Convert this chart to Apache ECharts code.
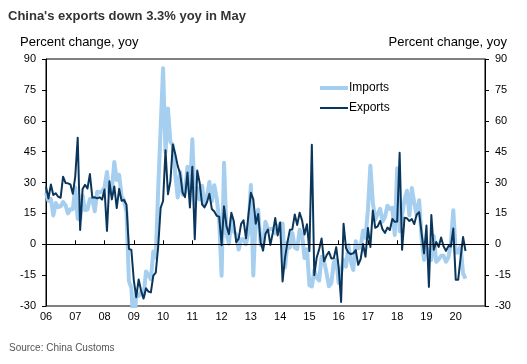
<!DOCTYPE html>
<html>
<head>
<meta charset="utf-8">
<script src="https://cdn.jsdelivr.net/npm/echarts@6/dist/echarts.min.js"></script>
<style>
html,body{margin:0;padding:0;background:#fff;}
#chart{width:527px;height:364px;}
</style>
</head>
<body>
<div id="chart"></div>
<script>
// Monthly data, Jan 2006 .. May 2020
const startYear = 2006;
const exportsYoY = [
  28.0, 22.2, 29.0, 23.9, 24.8, 23.1, 22.6, 32.8, 29.8, 29.6, 29.1, 24.5,
  33.0, 51.7, 6.9, 26.8, 28.9, 27.1, 34.1, 22.7, 22.8, 22.3, 22.8, 21.7,
  26.6, 6.5, 30.6, 21.8, 28.1, 17.6, 26.9, 21.1, 21.5, 19.2, -2.2, -2.8,
  -17.5, -25.7, -17.1, -22.6, -26.4, -21.4, -23.0, -23.4, -15.2, -13.8, -1.2, 17.7,
  21.0, 45.7, 24.3, 30.5, 48.5, 43.9, 38.1, 34.4, 25.1, 22.9, 34.9, 17.9,
  37.7, 2.4, 35.8, 29.9, 19.4, 17.9, 20.4, 24.5, 17.1, 15.9, 13.8, 13.4,
  -0.5, 18.4, 8.9, 4.9, 15.3, 11.3, 1.0, 2.7, 9.9, 11.6, 2.9, 14.1,
  25.0, 21.8, 10.0, 14.7, 1.0, -3.1, 5.1, 7.2, -0.3, 5.6, 12.7, 4.3,
  10.6, -18.1, -6.6, 0.9, 7.0, 7.2, 14.5, 9.4, 15.3, 11.6, 4.7, 9.7,
  -3.3, 48.3, -15.0, -6.4, -2.5, 2.8, -8.3, -5.5, -3.7, -6.9, -6.8, -1.4,
  -11.2, -28.0, 10.0, -1.8, -4.1, -4.8, -4.4, -2.8, -10.0, -7.3, 0.1, -6.1,
  7.9, -1.3, 16.4, 8.0, 8.7, 11.3, 7.2, 5.5, 8.1, 6.9, 12.3, 10.9,
  11.1, 44.5, -2.7, 12.9, 12.6, 11.3, 12.2, 9.8, 14.5, 15.6, 5.4, -4.4,
  9.1, -20.7, 14.2, -2.7, 1.1, -1.3, 3.3, -1.0, -3.2, -0.9, -1.1, 7.6,
  -17.2, -17.2, -6.6, 3.5, -3.3
];
const importsYoY = [
  25.0, 21.0, 22.0, 14.0, 20.0, 18.0, 18.5, 20.5, 19.0, 15.0, 17.0, 17.0,
  27.6, 12.4, 12.0, 23.7, 16.6, 16.9, 22.0, 22.0, 16.0, 25.5, 25.2, 25.7,
  27.6, 35.1, 24.6, 26.3, 40.0, 31.2, 33.7, 23.1, 21.3, 15.6, -17.9, -21.3,
  -43.1, -24.1, -25.1, -23.0, -25.2, -13.2, -14.9, -17.0, -3.5, -6.4, 26.7, 55.9,
  85.5, 44.7, 66.0, 49.7, 48.3, 34.1, 22.7, 35.2, 24.1, 25.3, 37.7, 25.6,
  51.0, 19.4, 27.3, 21.8, 28.4, 19.3, 22.9, 30.2, 20.9, 28.7, 22.1, 11.8,
  -15.3, 39.6, 5.3, 0.3, 12.7, 6.3, 4.7, -2.6, 2.4, 2.4, 0.0, 6.0,
  28.8, -15.2, 14.1, 16.8, -0.3, -0.7, 10.9, 7.0, 7.4, 7.6, 5.3, 8.3,
  10.0, 10.1, -11.3, 0.8, -1.6, 5.5, -1.6, -2.4, 7.0, 4.6, -6.7, -2.4,
  -19.9, -20.5, -12.7, -16.2, -17.6, -6.1, -8.1, -13.8, -20.4, -18.8, -8.7, -7.6,
  -18.8, -13.8, -7.6, -10.9, -0.4, -8.4, -12.5, 1.5, -1.9, -1.4, 6.7, 3.1,
  16.7, 38.1, 20.3, 11.9, 14.8, 17.2, 11.0, 13.3, 18.7, 17.2, 17.7, 4.5,
  36.9, 6.3, 14.4, 21.5, 26.0, 14.1, 27.3, 20.0, 14.3, 21.4, 3.0, -7.6,
  -1.5, -5.2, -7.6, 4.0, -8.5, -7.3, -5.6, -5.6, -8.5, -6.4, 0.3, 16.5,
  -4.0, -4.0, -0.9, -14.2, -16.7
];
const yTicks = [-30, -15, 0, 15, 30, 45, 60, 75, 90];
const xYears = [2006, 2021];

const toPairs = arr => arr.map((v, i) => [startYear + i / 12, v]);
const FONT = '"Liberation Sans", Arial, sans-serif';
const IMP_COLOR = '#a6ceee';
const EXP_COLOR = '#0b365c';

const chart = echarts.init(document.getElementById('chart'), null, {renderer: 'canvas'});
const yAxisBase = {
  type: 'value',
  min: yTicks[0], max: yTicks[yTicks.length - 1], interval: 15,
  axisLine: {show: true, lineStyle: {color: '#000', width: 1}},
  axisTick: {show: true, inside: false, length: 4, lineStyle: {color: '#000'}},
  axisLabel: {color: '#000', fontSize: 11, fontFamily: FONT, margin: 10},
  splitLine: {show: false}
};
chart.setOption({
  animation: false,
  grid: {left: 46, right: 42, top: 59, bottom: 58, show: true, borderColor: '#000', borderWidth: 1},
  graphic: [
    {type: 'text', left: 8, top: 10, style: {text: "China's exports down 3.3% yoy in May", font: 'bold 13px ' + FONT, fill: '#333'}},
    {type: 'text', left: 20, top: 36, style: {text: 'Percent change, yoy', font: '13px ' + FONT, fill: '#000'}},
    {type: 'text', right: 20, top: 36, style: {text: 'Percent change, yoy', font: '13px ' + FONT, fill: '#000'}},
    {type: 'text', left: 9, top: 343, style: {text: 'Source: China Customs', font: '10px ' + FONT, fill: '#555'}}
  ],
  legend: {
    orient: 'vertical', left: 315, top: 77,
    itemWidth: 28, itemHeight: 14, itemGap: 8,
    textStyle: {color: '#000', fontSize: 12, fontFamily: FONT, padding: [0, 0, 0, -4]},
    data: [
      {name: 'Imports', icon: 'path://M0,0H28V4H0Z', itemStyle: {color: IMP_COLOR}},
      {name: 'Exports', icon: 'path://M0,0H28V2H0Z', itemStyle: {color: EXP_COLOR}}
    ]
  },
  xAxis: {
    type: 'value', min: xYears[0], max: xYears[1], interval: 1,
    axisLine: {show: true, lineStyle: {color: '#000', width: 1}},
    axisTick: {show: true, inside: true, length: 4, lineStyle: {color: '#000'}},
    axisLabel: {color: '#000', fontSize: 11, fontFamily: FONT, margin: 5,
      formatter: v => (v >= xYears[1] ? '' : String(Math.round(v)).slice(2))},
    splitLine: {show: false}
  },
  yAxis: [
    Object.assign({}, yAxisBase, {position: 'left'}),
    Object.assign({}, yAxisBase, {position: 'right'})
  ],
  series: [
    {
      name: 'Imports', type: 'line', data: toPairs(importsYoY),
      symbol: 'none', clip: true,
      lineStyle: {color: IMP_COLOR, width: 4, join: 'round'},
      itemStyle: {color: IMP_COLOR}
    },
    {
      name: 'Exports', type: 'line', data: toPairs(exportsYoY),
      symbol: 'none', clip: true,
      lineStyle: {color: EXP_COLOR, width: 2, join: 'round'},
      itemStyle: {color: EXP_COLOR},
      markLine: {
        silent: true, symbol: ['none', 'none'], label: {show: false},
        lineStyle: {color: '#000', width: 1, type: 'solid'},
        data: [{yAxis: 0}]
      }
    }
  ]
});
</script>
</body>
</html>
